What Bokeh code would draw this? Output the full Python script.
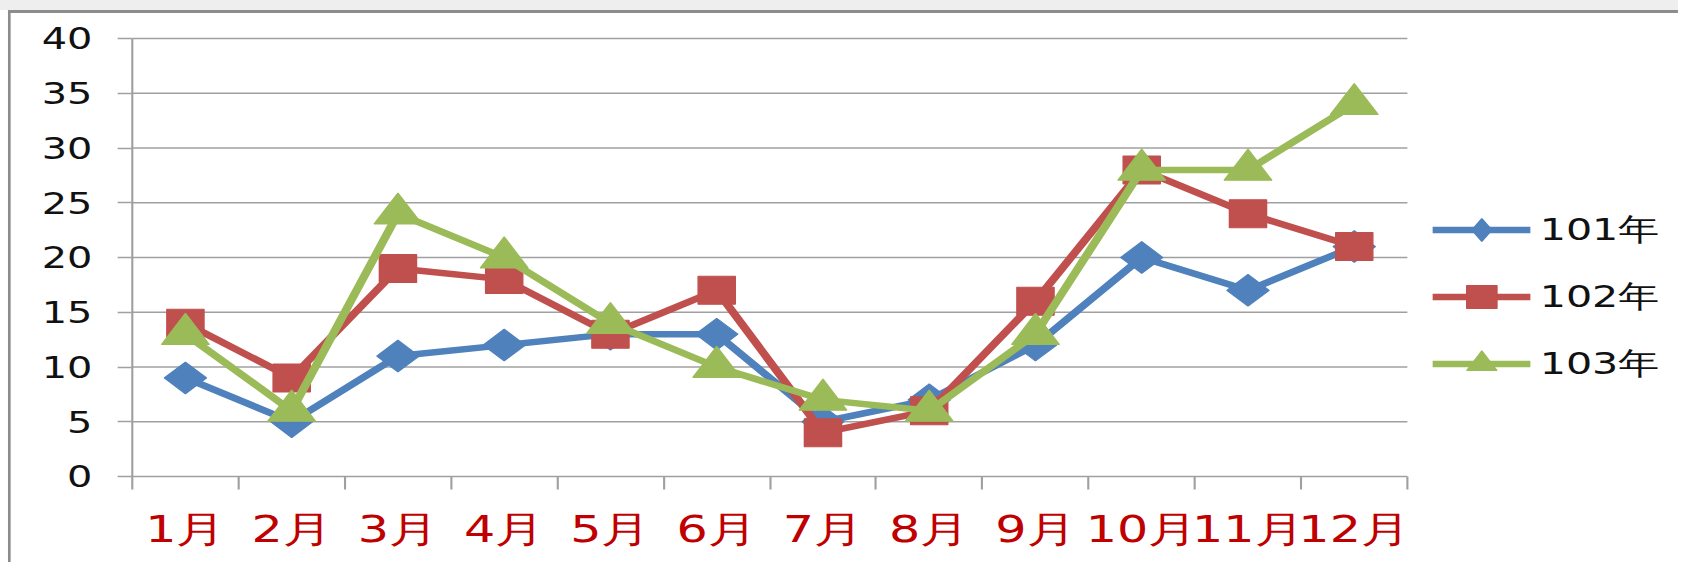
import math
from bokeh.plotting import figure
from bokeh.models import FixedTicker, Legend, LegendItem, InlineStyleSheet
from bokeh.embed import file_html
from bokeh.resources import INLINE

# ---- data ----
months = ["1月", "2月", "3月", "4月", "5月", "6月", "7月", "8月", "9月", "10月", "11月", "12月"]
s101 = [9, 5, 11, 12, 13, 13, 5, 7, 12, 20, 17, 21]
s102 = [14, 9, 19, 18, 13, 17, 4, 6, 16, 28, 24, 21]
s103 = [13, 6, 24, 20, 14, 10, 7, 6, 13, 28, 28, 34]
series_names = ["101年", "102年", "103年"]
y_ticks = [0, 5, 10, 15, 20, 25, 30, 35, 40]

colors = ["#4f81bd", "#c0504d", "#9bbb59"]
SX = 1.3296            # the reference is horizontally stretched
W, H = 1262, 562       # natural (unstretched) canvas size
FONT = "DejaVu Sans"
GRID = "#a0a0a0"

n = len(months)
centers = [i + 0.5 for i in range(n)]
bounds = list(range(n + 1))
y_max = y_ticks[-1]

# layout (natural px): chart area 959 wide from x=99; the frame runs on to the
# right edge so that the legend beside the chart is not clipped
LEFT, TOP, BOTTOM = 99, 35, 86
CHART_W = 959
x_end = n * (W - LEFT) / CHART_W
y_end = y_max * (H - TOP - BOTTOM) / (H - TOP - BOTTOM - 3)

css = (".bk-Canvas { transform: scaleX(%s); transform-origin: 0 0; "
       "background: "
       "linear-gradient(#8c8c8c, #8c8c8c) 6px 10px / 100%% 3px no-repeat, "
       "linear-gradient(#8c8c8c, #8c8c8c) 6px 10px / 2.4px 100%% no-repeat, "
       "linear-gradient(#eeeeee, #eeeeee) 0 0 / 100%% 10px no-repeat, white; }" % SX)

p = figure(width=W, height=H, x_range=(0, x_end), y_range=(0, y_end),
           output_backend="svg", toolbar_location=None, sizing_mode="fixed",
           min_border_left=LEFT, min_border_right=0,
           min_border_top=TOP, min_border_bottom=BOTTOM,
           stylesheets=[InlineStyleSheet(css=css)])
p.border_fill_alpha = 0
p.background_fill_color = "white"
p.outline_line_color = None
p.xgrid.visible = False
p.ygrid.visible = False

# horizontal grid lines, limited to the chart area
gy = y_ticks[1:]
p.segment(x0=[0] * len(gy), x1=[n] * len(gy), y0=gy, y1=gy,
          line_color=GRID, line_width=1.6)

# y axis
ya = p.yaxis[0]
ya.ticker = FixedTicker(ticks=y_ticks)
ya.bounds = (0, y_max)
ya.axis_line_color = GRID
ya.axis_line_width = 1.6
ya.major_tick_line_color = GRID
ya.major_tick_line_width = 1.6
ya.major_tick_out = 11
ya.major_tick_in = 0
ya.minor_tick_line_color = None
ya.major_label_standoff = 19
ya.major_label_text_font = FONT
ya.major_label_text_font_size = "30px"
ya.major_label_text_color = "#111111"

# x axis
xa = p.xaxis[0]
xa.ticker = FixedTicker(ticks=centers, minor_ticks=bounds)
xa.bounds = (0, n)
xa.major_label_overrides = {c: m for c, m in zip(centers, months)}
xa.axis_line_color = GRID
xa.axis_line_width = 1.6
xa.major_tick_line_color = None
xa.major_tick_out = 0
xa.major_tick_in = 0
xa.minor_tick_line_color = GRID
xa.minor_tick_line_width = 1.6
xa.minor_tick_out = 13
xa.minor_tick_in = 0
xa.major_label_standoff = 19
xa.major_label_text_font = FONT
xa.major_label_text_font_size = "37px"
xa.major_label_text_color = "#c00000"

# series
items = []
specs = [
    (s101, dict(marker="square", size=22.5, angle=math.pi / 4), "diamond"),
    (s102, dict(marker="square", size=28), None),
    (s103, dict(marker="triangle", size=36), None),
]
for (vals, mk, leg_marker), name, col in zip(specs, series_names, colors):
    ln = p.line(centers, vals, line_color=col, line_width=6.5, line_join="round")
    sc = p.scatter(centers, vals, fill_color=col, line_color=col, line_width=1, **mk)
    rends = [ln, sc]
    if leg_marker:
        # legend-only marker (a rotated square is not rotated in legends)
        lg = p.scatter([centers[0]], [float("nan")], marker=leg_marker,
                       fill_color=col, line_color=col, line_width=1)
        rends = [ln, lg]
    items.append(LegendItem(label=name, renderers=rends))

legend = Legend(items=items, location=(978, 84), orientation="vertical",
                glyph_width=74, glyph_height=57, label_height=57, spacing=10,
                padding=0, margin=0, label_standoff=7,
                label_text_font=FONT, label_text_font_size="31px",
                label_text_color="#111111",
                border_line_color=None, background_fill_alpha=0)
p.add_layout(legend, "center")

open("out.html", "w").write(file_html(p, INLINE))
